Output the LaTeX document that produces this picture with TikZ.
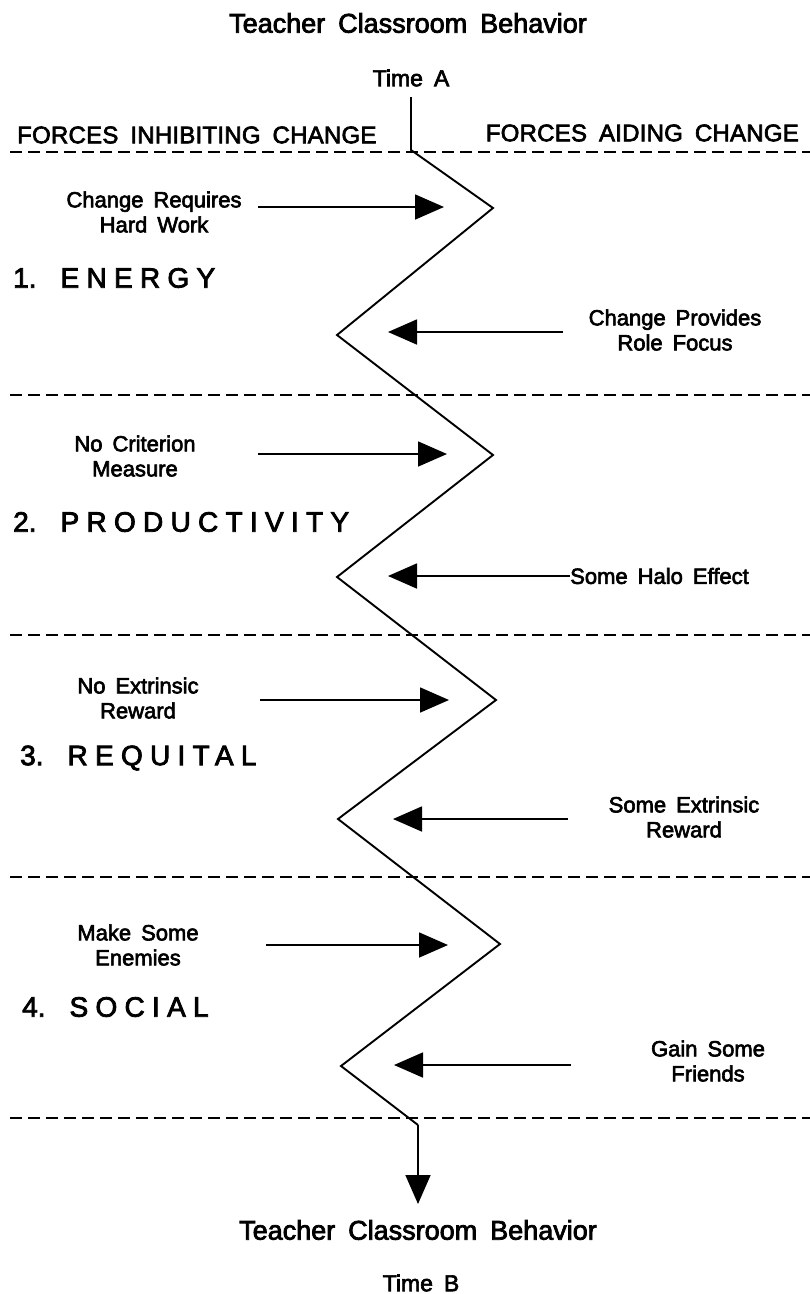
\documentclass[tikz,border=0pt]{standalone}
\usepackage{fontspec}
\setmainfont[FakeBold=2.8]{Liberation Sans}
\newfontfamily\headfont[LetterSpace=1,FakeBold=2.8]{Liberation Sans}
\newfontfamily\secfont[LetterSpace=26,FakeBold=2.8]{Liberation Sans}
\newcommand\myspace[1]{\spaceskip=#1\relax\xspaceskip=#1\relax}
\newcommand\titlefnt{\fontsize{27}{30}\selectfont\myspace{13pt}}
\newcommand\timefnt{\fontsize{23}{25}\selectfont\myspace{11pt}}
\newcommand\headfnt{\headfont\fontsize{24}{27}\selectfont\myspace{12pt}}
\newcommand\secfnt{\fontsize{28}{30}\selectfont}
\newcommand\lblfnt{\fontsize{22}{25}\selectfont\myspace{10pt}}
\usetikzlibrary{arrows.meta}
\begin{document}
\begin{tikzpicture}[x=1pt,y=-1pt,
  title/.style={font=\titlefnt, inner sep=0pt},
  timelbl/.style={font=\timefnt, inner sep=0pt},
  head/.style={font=\headfnt, inner sep=0pt},
  section/.style={font=\secfnt, inner sep=0pt, anchor=west},
  lbl/.style={font=\lblfnt, align=center, inner sep=0pt},
  divider/.style={dash pattern=on 12pt off 6pt, line width=1.6pt},
  zig/.style={line width=1.9pt, line join=miter},
  force/.style={line width=1.7pt, -{Triangle[length=29pt,width=25pt]}}
]
\useasboundingbox (0,0) rectangle (810,1294);

% titles
\node[title] (topT) at (408,23) {Teacher Classroom Behavior};
\node[timelbl] (timeA) at (411,78) {Time A};
\node[head, anchor=west] (inhib) at (17,135) {FORCES INHIBITING CHANGE};
\node[head, anchor=east] (aid) at (799,133) {FORCES AIDING CHANGE};
\node[title] (botT) at (418,1230) {Teacher Classroom Behavior};
\node[timelbl] (timeB) at (421,1283) {Time B};

% dividers
\foreach \yy in {152,395,635,877,1118}
  \draw[divider] (10,\yy) -- (810,\yy);

% sections
\node[section] (s1) at (13,278) {1.\hspace{24pt}\secfont ENERGY};
\node[section] (s2) at (13,522) {2.\hspace{24pt}\secfont PRODUCTIVITY};
\node[section] (s3) at (20,758) {3.\hspace{24pt}\secfont REQUITAL};
\node[section] (s4) at (22,1007) {4.\hspace{24pt}\secfont SOCIAL};

% zigzag
\coordinate (za) at (411,97);
\coordinate (zb) at (411,150);
\coordinate (z1) at (493,208);
\coordinate (z2) at (337,335);
\coordinate (z3) at (493,455);
\coordinate (z4) at (337,577);
\coordinate (z5) at (496,700);
\coordinate (z6) at (338,819);
\coordinate (z7) at (500,944);
\coordinate (z8) at (341,1066);
\coordinate (z9) at (418,1125);
\coordinate (zend) at (418,1204);
\draw[zig] (za) -- (zb) -- (z1) -- (z2) -- (z3) -- (z4) -- (z5) -- (z6) -- (z7) -- (z8) -- (z9);
\draw[force] (z9) -- (zend);

% inhibiting forces (left)
\node[lbl] (l1) at (154,212) {Change Requires\\Hard Work};
\node[lbl] (l2) at (135,456) {No Criterion\\Measure};
\node[lbl] (l3) at (138,698) {No Extrinsic\\Reward};
\node[lbl] (l4) at (138,945) {Make Some\\Enemies};
\coordinate (a1s) at (258,207); \coordinate (a1e) at (444,207);
\coordinate (a2s) at (258,454); \coordinate (a2e) at (447,454);
\coordinate (a3s) at (260,700); \coordinate (a3e) at (449,700);
\coordinate (a4s) at (266,945); \coordinate (a4e) at (448,945);
\draw[force] (a1s) -- (a1e);
\draw[force] (a2s) -- (a2e);
\draw[force] (a3s) -- (a3e);
\draw[force] (a4s) -- (a4e);

% aiding forces (right)
\node[lbl] (r1) at (675,330) {Change Provides\\Role Focus};
\node[lbl, anchor=west] (r2) at (570,576) {Some Halo Effect};
\node[lbl] (r3) at (684,817) {Some Extrinsic\\Reward};
\node[lbl] (r4) at (708,1061) {Gain Some\\Friends};
\coordinate (b1s) at (563,332); \coordinate (b1e) at (388,332);
\coordinate (b2e) at (388,576);
\coordinate (b3s) at (568,819); \coordinate (b3e) at (393,819);
\coordinate (b4s) at (571,1065); \coordinate (b4e) at (394,1065);
\draw[force] (b1s) -- (b1e);
\draw[force] (r2.west) -- (b2e);
\draw[force] (b3s) -- (b3e);
\draw[force] (b4s) -- (b4e);
\end{tikzpicture}
\end{document}
